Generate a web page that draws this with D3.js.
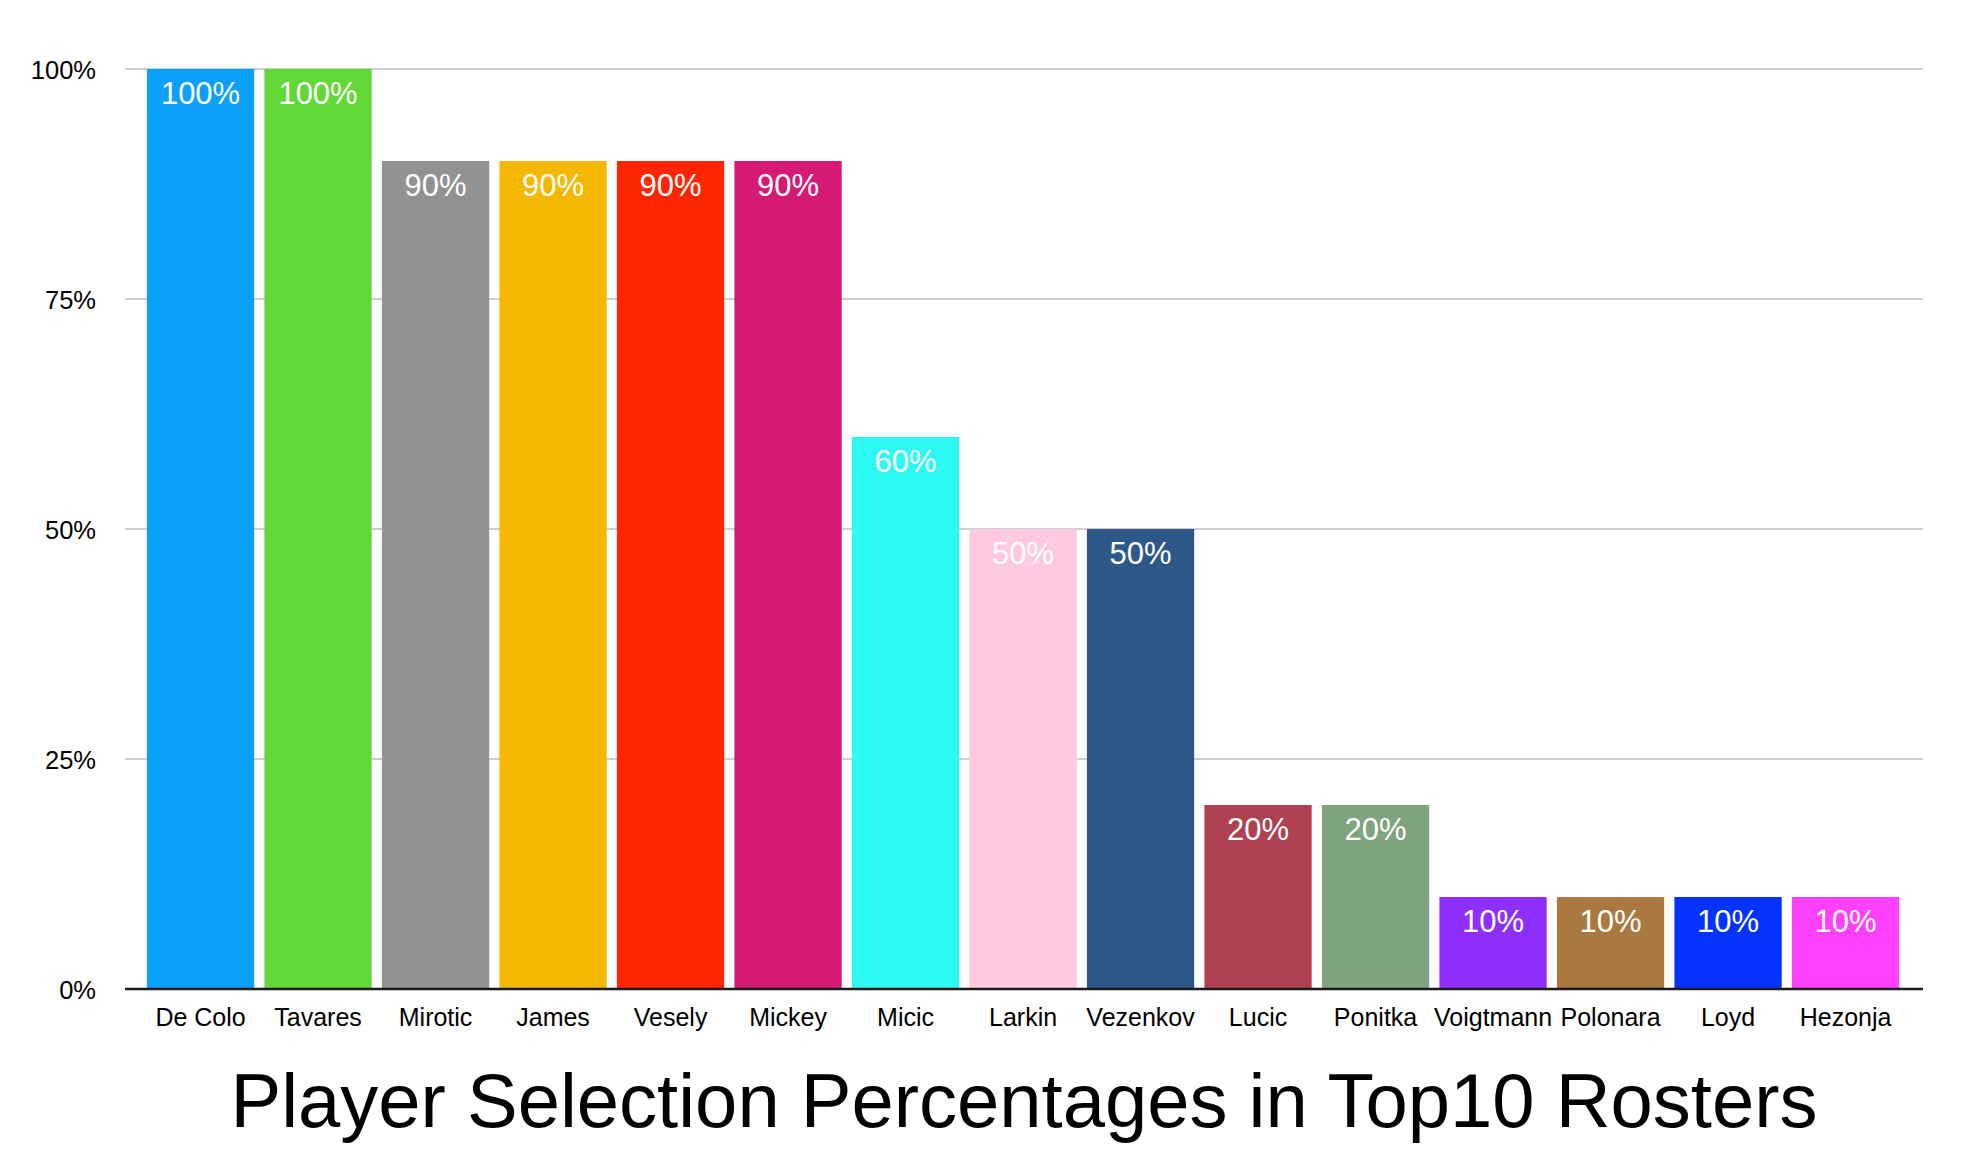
<!DOCTYPE html>
<html>
<head>
<meta charset="utf-8">
<script src="https://cdn.jsdelivr.net/npm/d3@7"></script>
<style>
  html, body { margin: 0; padding: 0; background: #fff; }
  svg { display: block; font-family: "Liberation Sans", Arial, Helvetica, sans-serif; }
</style>
</head>
<body>
<svg id="chart" width="1980" height="1152"></svg>
<script>
const players = ["De Colo","Tavares","Mirotic","James","Vesely","Mickey","Micic","Larkin","Vezenkov","Lucic","Ponitka","Voigtmann","Polonara","Loyd","Hezonja"];
const percentages = [100,100,90,90,90,90,60,50,50,20,20,10,10,10,10];
const barColors = ["#0ba0fe","#61d836","#929292","#f5b800","#fe2600","#d51a75","#2cfaf2","#ffc9e0","#2d5888","#ae4152","#80a480","#8e2ffe","#aa7942","#0433ff","#ff40ff"];
const yTicks = [0,25,50,75,100];
const yTickLabels = ["0%","25%","50%","75%","100%"];
const titleText = "Player Selection Percentages in Top10 Rosters";

const svg = d3.select("#chart");
const plotLeft = 125, plotRight = 1923, plotTop = 69, plotBottom = 989;

const x = d3.scaleBand().domain(players).range([141.8, 1904.3]).paddingInner(0.087).paddingOuter(0.0435);
const y = d3.scaleLinear().domain([0,100]).range([plotBottom, plotTop]);

// gridlines
svg.append("g").selectAll("line").data(yTicks.filter(t => t > 0)).join("line")
  .attr("x1", plotLeft).attr("x2", plotRight)
  .attr("y1", d => y(d)).attr("y2", d => y(d))
  .attr("stroke", "#bfbfbf").attr("stroke-width", 1.5);

// y tick labels via axis
const yAxis = d3.axisLeft(y).tickValues(yTicks).tickSize(0).tickPadding(0)
  .tickFormat(d => yTickLabels[yTicks.indexOf(d)]);
const yg = svg.append("g").attr("transform", "translate(96,0)").call(yAxis);
yg.select(".domain").remove();
yg.selectAll("text").attr("font-size", 25.5).attr("fill", "#000")
  .attr("font-family", "'Liberation Sans', Arial, sans-serif").attr("dy", "0.36em");

// bars
svg.append("g").selectAll("rect").data(players).join("rect")
  .attr("x", d => x(d))
  .attr("width", x.bandwidth())
  .attr("y", (d,i) => y(percentages[i]))
  .attr("height", (d,i) => y(0) - y(percentages[i]))
  .attr("fill", (d,i) => barColors[i]);

// value labels
svg.append("g").selectAll("text").data(players).join("text")
  .attr("x", d => x(d) + x.bandwidth()/2)
  .attr("y", (d,i) => y(percentages[i]) + 35)
  .attr("text-anchor", "middle")
  .attr("font-size", 31)
  .attr("fill", "#fff")
  .text((d,i) => percentages[i] + "%");

// x axis baseline
svg.append("line").attr("x1", plotLeft).attr("x2", plotRight)
  .attr("y1", plotBottom).attr("y2", plotBottom)
  .attr("stroke", "#1a1a1a").attr("stroke-width", 2.5);

// category labels via axis
const xAxis = d3.axisBottom(x).tickSize(0).tickPadding(0);
const xg = svg.append("g").attr("transform", `translate(0,${plotBottom})`).call(xAxis);
xg.select(".domain").remove();
xg.selectAll("text").attr("font-size", 25).attr("fill", "#000")
  .attr("font-family", "'Liberation Sans', Arial, sans-serif")
  .attr("dy", null).attr("y", 37);

// title
svg.append("text").attr("x", 1024).attr("y", 1127)
  .attr("text-anchor", "middle").attr("font-size", 76).attr("fill", "#000")
  .text(titleText);
</script>
</body>
</html>
